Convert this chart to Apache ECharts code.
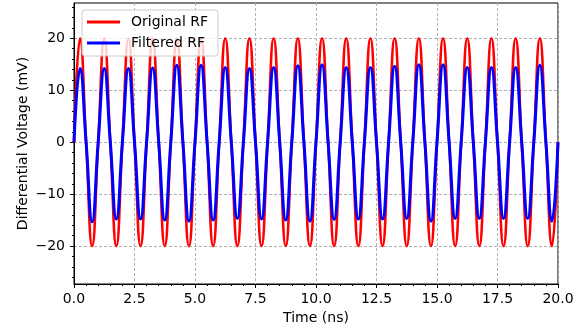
<!DOCTYPE html>
<html><head><meta charset="utf-8">
<script src="https://cdn.jsdelivr.net/npm/echarts@6/dist/echarts.min.js"></script>
<style>html,body{margin:0;padding:0;background:#fff}#c{width:586px;height:331px}</style>
</head><body><div id="c"></div>
<script>
// Sample times (ns), read at quarter-period points
const timeNs = [0,0.25,0.5,0.75,1,1.25,1.5,1.75,2,2.25,2.5,2.75,3,3.25,3.5,3.75,4,4.25,4.5,4.75,
  5,5.25,5.5,5.75,6,6.25,6.5,6.75,7,7.25,7.5,7.75,8,8.25,8.5,8.75,9,9.25,9.5,9.75,
  10,10.25,10.5,10.75,11,11.25,11.5,11.75,12,12.25,12.5,12.75,13,13.25,13.5,13.75,14,14.25,14.5,14.75,
  15,15.25,15.5,15.75,16,16.25,16.5,16.75,17,17.25,17.5,17.75,18,18.25,18.5,18.75,19,19.25,19.5,19.75,20];

// Original RF (mV)
const originalRF = [0,20,0,-20, 0,20,0,-20, 0,20,0,-20, 0,20,0,-20, 0,20,0,-20,
  0,20,0,-20, 0,20,0,-20, 0,20,0,-20, 0,20,0,-20, 0,20,0,-20,
  0,20,0,-20, 0,20,0,-20, 0,20,0,-20, 0,20,0,-20, 0,20,0,-20,
  0,20,0,-20, 0,20,0,-20, 0,20,0,-20, 0,20,0,-20, 0,20,0,-20, 0];

// Filtered RF (mV)
const filteredRF = [0,14.2,0,-15.3, 0,14.2,0,-14.8, 0,14.2,0,-14.8, 0,14.3,0,-15.0, 0,14.8,0,-15.2,
  0,14.8,0,-15.0, 0,14.4,0,-14.7, 0,14.2,0,-14.8, 0,14.4,0,-15.0, 0,14.7,0,-15.2,
  0,14.9,0,-14.9, 0,14.4,0,-14.8, 0,14.4,0,-14.8, 0,14.6,0,-14.7, 0,14.9,0,-15.2,
  0,14.9,0,-14.7, 0,14.4,0,-14.7, 0,14.4,0,-14.7, 0,14.4,0,-14.7, 0,14.8,0,-15.2, 0];

const seriesNames = ['Original RF', 'Filtered RF'];
const seriesColors = ['#ff0000', '#0000ff'];
const xTicks = [0, 2.5, 5, 7.5, 10, 12.5, 15, 17.5, 20];
const yTicks = [-20, -10, 0, 10, 20];
const yMinorTicks = [-26,-24,-22,-20,-18,-16,-14,-12,-10,-8,-6,-4,-2,0,2,4,6,8,10,12,14,16,18,20,22,24,26];
const xRange = [0, 20];
const yRange = [-27.3, 26.8];

const FONT = 'DejaVu Sans';
const chart = echarts.init(document.getElementById('c'), null, {renderer: 'canvas'});
const gridLine = {show: true, lineStyle: {color: '#b0b0b0', width: 1, type: [3, 2]}};
const fmtY = v => (v < 0 ? '\u2212' + Math.abs(v) : String(v));
const lineIcon = 'path://M0,0M33,14M0,5.6H33V8.4H0Z';

chart.setOption({
  animation: false,
  backgroundColor: '#fff',
  grid: {left: 74, right: 28, top: 3, bottom: 47, show: true, borderColor: '#000', borderWidth: 1, backgroundColor: 'transparent'},
  legend: {
    data: seriesNames.map((n, i) => ({name: n, icon: lineIcon, itemStyle: {color: seriesColors[i]}})),
    orient: 'vertical', left: 82, top: 10,
    itemWidth: 33, itemHeight: 14, itemGap: 7,
    padding: [5, 10, 6, 5],
    backgroundColor: 'rgba(255,255,255,0.8)', borderColor: '#cccccc', borderWidth: 1, borderRadius: 3,
    textStyle: {fontFamily: FONT, fontSize: 14, color: '#000', padding: [0, 0, 0, 6]}
  },
  xAxis: {
    type: 'value', min: xRange[0], max: xRange[1], interval: 2.5,
    name: 'Time (ns)', nameLocation: 'middle', nameGap: 27, nameMoveOverlap: false,
    nameTextStyle: {fontFamily: FONT, fontSize: 14, color: '#000'},
    axisLine: {show: true, onZero: false, lineStyle: {color: '#000', width: 1}},
    axisTick: {show: true, inside: false, length: 4, lineStyle: {color: '#000'}},
    minorTick: {show: true, splitNumber: 5, length: 2, lineStyle: {color: '#000'}},
    axisLabel: {fontFamily: FONT, fontSize: 14, color: '#000', margin: 8, formatter: v => v.toFixed(1), customValues: xTicks},
    splitLine: gridLine
  },
  yAxis: [{
    type: 'value', min: yRange[0], max: yRange[1], splitNumber: 5,
    name: 'Differential Voltage (mV)', nameLocation: 'middle', nameGap: 44, nameMoveOverlap: false,
    nameTextStyle: {fontFamily: FONT, fontSize: 14, color: '#000'},
    axisLine: {show: true, onZero: false, lineStyle: {color: '#000', width: 1}},
    axisTick: {show: true, inside: false, length: 4, lineStyle: {color: '#000'}, customValues: yTicks},
    axisLabel: {fontFamily: FONT, fontSize: 14, color: '#000', margin: 9, formatter: fmtY, customValues: yTicks},
    splitLine: gridLine
  }, {
    type: 'value', min: yRange[0], max: yRange[1], splitNumber: 27, position: 'left', offset: 0,
    axisLine: {show: false},
    axisTick: {show: true, inside: false, length: 2, lineStyle: {color: '#000'}, customValues: yMinorTicks},
    axisLabel: {show: false},
    splitLine: {show: false}
  }],
  series: [{
    name: seriesNames[0], type: 'line', smooth: 0.5, symbol: 'none', yAxisIndex: 0,
    lineStyle: {color: seriesColors[0], width: 2.6}, itemStyle: {color: seriesColors[0]},
    data: timeNs.map((t, i) => [t, originalRF[i]])
  }, {
    name: seriesNames[1], type: 'line', smooth: 0.5, symbol: 'none', yAxisIndex: 0,
    lineStyle: {color: seriesColors[1], width: 3}, itemStyle: {color: seriesColors[1]},
    data: timeNs.map((t, i) => [t, filteredRF[i]])
  }]
});
</script></body></html>
